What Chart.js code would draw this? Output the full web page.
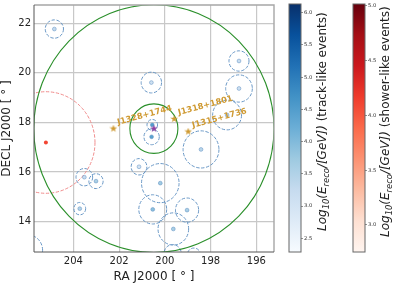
<!DOCTYPE html>
<html>
<head>
<meta charset="utf-8">
<script src="https://cdn.jsdelivr.net/npm/chart.js@4"></script>
<style>
html, body { margin: 0; padding: 0; background: #fff; overflow: hidden; }
canvas { position: absolute; top: 0; }
</style>
</head>
<body>
<canvas id="sky" width="396" height="284" style="left:0"></canvas>
<canvas id="trackBar" width="64" height="284" style="left:288px"></canvas>
<canvas id="showerBar" width="44" height="284" style="left:352px"></canvas>
<script>
// track-like events: RA, Dec, error radius (deg), log10 energy
const trackRa = [204.83, 196.76, 200.59, 196.76, 197.28, 198.42, 200.55, 200.58, 201.13, 200.2, 200.53, 199.03, 199.63, 199.66, 198.73, 203.52, 203.01, 203.72, 205.98];
const trackDec = [21.77, 20.48, 19.61, 19.37, 18.3, 16.91, 17.9, 17.42, 16.21, 15.55, 14.49, 14.46, 13.7, 12.7, 12.64, 15.79, 15.63, 14.52, 12.84];
const trackErr = [0.37, 0.41, 0.42, 0.55, 0.6, 0.75, 0.22, 0.32, 0.33, 0.79, 0.59, 0.49, 0.65, 0.37, 0.29, 0.35, 0.3, 0.25, 0.62];
const trackE = [3.3, 3.2, 3.1, 3.1, 3.3, 3.4, 4.5, 4.4, 3.0, 3.7, 3.9, 3.6, 3.6, 3.2, 3.2, 3.2, 3.6, 3.5, 3.2];

// shower-like event
const showerRa = [205.2];
const showerDec = [17.19];
const showerErr = [2.05];
const showerE = [4.1];

// candidate sources
const sourceNames = ['J1328+1744', 'J1318+1801', 'J1315+1736'];
const sourceRa = [202.25, 199.59, 198.98];
const sourceDec = [17.75, 18.14, 17.63];

// green search regions and their centre
const regionRa = [200.48, 200.48];
const regionDec = [17.75, 17.75];
const regionRadius = [1, 5];

const raTicks = [204, 202, 200, 198, 196];
const decTicks = [14, 16, 18, 20, 22];
const trackTicks = [2.5, 3.0, 3.5, 4.0, 4.5, 5.0, 5.5, 6.0];
const showerTicks = [3.0, 3.5, 4.0, 4.5, 5.0];

const blues = ['#f7fbff', '#deebf7', '#c6dbef', '#9ecae1', '#6baed6', '#4292c6', '#2171b5', '#08519c', '#08306b'];
const reds = ['#fff5f0', '#fee0d2', '#fcbba1', '#fc9272', '#fb6a4a', '#ef3b2c', '#cb181d', '#a50f15', '#67000d'];

const FONT = 'DejaVu Sans';
const GOLD = '#cf9a32';
const TRACK_RANGE = [2.287, 6.135];
const SHOWER_RANGE = [2.753, 5.018];

function rampColor(ramp, range, v) {
    const t = Math.min(1, Math.max(0, (v - range[0]) / (range[1] - range[0]))) * (ramp.length - 1);
    const i = Math.min(ramp.length - 2, Math.floor(t));
    const a = parseInt(ramp[i].slice(1), 16), b = parseInt(ramp[i + 1].slice(1), 16);
    const mix = (s) => Math.round(((a >> s) & 255) * (1 - t + i) + ((b >> s) & 255) * (t - i));
    return `rgb(${mix(16)},${mix(8)},${mix(0)})`;
}

function starImage(color, size) {
    const c = document.createElement('canvas');
    c.width = c.height = size;
    const g = c.getContext('2d');
    g.beginPath();
    for (let i = 0; i < 10; i++) {
        const r = (i % 2 ? 0.2 : 0.5) * size;
        const a = -Math.PI / 2 + i * Math.PI / 5;
        g.lineTo(size / 2 + r * Math.cos(a), size / 2 + r * Math.sin(a));
    }
    g.closePath();
    g.fillStyle = color;
    g.fill();
    return c;
}

function ellipse(chart, ra, dec, radius, color, width, dash) {
    const { ctx, chartArea: area, scales: { x, y } } = chart;
    const rx = Math.abs(x.getPixelForValue(ra + radius / Math.cos(dec * Math.PI / 180)) - x.getPixelForValue(ra));
    const ry = Math.abs(y.getPixelForValue(dec + radius) - y.getPixelForValue(dec));
    ctx.save();
    ctx.beginPath();
    ctx.rect(area.left, area.top, area.right - area.left, area.bottom - area.top);
    ctx.clip();
    ctx.beginPath();
    ctx.ellipse(x.getPixelForValue(ra), y.getPixelForValue(dec), rx, ry, 0, 0, Math.PI * 2);
    ctx.strokeStyle = color;
    ctx.lineWidth = width;
    ctx.setLineDash(dash);
    ctx.stroke();
    ctx.restore();
}

const skyOverlay = {
    id: 'skyOverlay',
    beforeDatasetsDraw(chart) {
        trackRa.forEach((ra, i) => ellipse(chart, ra, trackDec[i], trackErr[i], '#6a98c6', 1, [3.4, 1.6]));
        showerRa.forEach((ra, i) => ellipse(chart, ra, showerDec[i], showerErr[i], '#f08c8c', 1, [3.4, 1.6]));
        regionRa.forEach((ra, i) => ellipse(chart, ra, regionDec[i], regionRadius[i], '#2a8f2a', 1.1, []));
    },
    afterDatasetsDraw(chart) {
        const { ctx, scales: { x, y } } = chart;
        ctx.save();
        ctx.fillStyle = GOLD;
        ctx.font = `bold 8.3px "${FONT}"`;
        ctx.textBaseline = 'middle';
        sourceNames.forEach((name, i) => {
            ctx.save();
            ctx.translate(x.getPixelForValue(sourceRa[i]) + 4, y.getPixelForValue(sourceDec[i]) - 6);
            ctx.rotate(-15 * Math.PI / 180);
            ctx.fillText(name, 0, 0);
            ctx.restore();
        });
        ctx.restore();
    }
};

// matplotlib look: dark left/bottom spines, grey top/right
const frame = {
    id: 'frame',
    afterDraw(chart) {
        const { ctx, chartArea: a } = chart;
        ctx.save();
        ctx.lineWidth = 1.4;
        ctx.strokeStyle = '#a6a6a6';
        ctx.beginPath();
        ctx.moveTo(a.left, a.top);
        ctx.lineTo(a.right, a.top);
        ctx.lineTo(a.right, a.bottom);
        ctx.stroke();
        ctx.lineWidth = 1;
        ctx.strokeStyle = '#555';
        ctx.beginPath();
        ctx.moveTo(a.left, a.top);
        ctx.lineTo(a.left, a.bottom);
        ctx.lineTo(a.right, a.bottom);
        ctx.stroke();
        ctx.restore();
    }
};

function noMargins(s) {
    s.paddingTop = s.paddingBottom = s.paddingLeft = s.paddingRight = 0;
}

new Chart(document.getElementById('sky'), {
    type: 'scatter',
    data: {
        datasets: [
            {
                data: [{ x: regionRa[0], y: regionDec[0] }],
                pointStyle: starImage('#8e3fa0', 8), pointRadius: 4
            },
            {
                data: sourceRa.map((ra, i) => ({ x: ra, y: sourceDec[i] })),
                pointStyle: starImage(GOLD, 8), pointRadius: 4
            },
            {
                data: trackRa.map((ra, i) => ({ x: ra, y: trackDec[i] })),
                pointRadius: 1.9, borderWidth: 0.5, borderColor: '#5f8fc0',
                backgroundColor: trackE.map((e) => rampColor(blues, TRACK_RANGE, e))
            },
            {
                data: showerRa.map((ra, i) => ({ x: ra, y: showerDec[i] })),
                pointRadius: 2, borderWidth: 0,
                backgroundColor: showerE.map((e) => rampColor(reds, SHOWER_RANGE, e))
            }
        ]
    },
    options: {
        responsive: false, animation: false,
        layout: { padding: { top: 4, right: 122, left: 0, bottom: 0 } },
        plugins: { legend: { display: false }, tooltip: { enabled: false } },
        scales: {
            x: {
                type: 'linear', reverse: true, min: 195.23, max: 205.72,
                afterFit(s) { s.height = 32; noMargins(s); },
                afterBuildTicks(s) { s.ticks = raTicks.map((v) => ({ value: v })); },
                grid: { color: '#c8c8c8', lineWidth: 1.2, drawTicks: false },
                border: { display: false },
                ticks: { color: '#222', font: { family: FONT, size: 10 }, padding: 3, maxRotation: 0 },
                title: { display: true, text: 'RA J2000 [ ° ]', color: '#222', font: { family: FONT, size: 12 }, padding: { top: 0, bottom: 0 } }
            },
            y: {
                type: 'linear', min: 12.77, max: 22.74,
                afterFit(s) { s.width = 34; noMargins(s); },
                afterBuildTicks(s) { s.ticks = decTicks.map((v) => ({ value: v })); },
                grid: { color: '#c8c8c8', lineWidth: 1.2, drawTicks: false },
                border: { display: false },
                ticks: { color: '#222', font: { family: FONT, size: 10 }, padding: 3 },
                title: { display: true, text: 'DECL J2000 [ ° ]', color: '#222', font: { family: FONT, size: 12 }, padding: { top: 0, bottom: 1 } }
            }
        }
    },
    plugins: [skyOverlay, frame]
});

// rotated label with subscripts, drawn piece by piece from the bottom up
function barTitle(labelX, labelBottom, suffix) {
    return {
        id: 'barTitle',
        afterDraw(chart) {
            const { ctx } = chart;
            const pieces = [
                ['Log', `italic 12px "${FONT}"`, 0],
                ['10', `italic 8.4px "${FONT}"`, 2.5],
                ['(E', `italic 12px "${FONT}"`, 0],
                ['reco', `italic 8.4px "${FONT}"`, 2.5],
                ['/[GeV])', `italic 12px "${FONT}"`, 0],
                [suffix, `12px "${FONT}"`, 0]
            ];
            ctx.save();
            ctx.translate(labelX, labelBottom);
            ctx.rotate(-Math.PI / 2);
            ctx.fillStyle = '#222';
            ctx.textBaseline = 'alphabetic';
            let at = 0;
            pieces.forEach(([text, font, drop]) => {
                ctx.font = font;
                ctx.fillText(text, at, drop);
                at += ctx.measureText(text).width;
            });
            ctx.restore();
        }
    };
}

function colorBar(id, ramp, range, ticks, width, title) {
    new Chart(document.getElementById(id), {
        type: 'bar',
        data: {
            labels: [''],
            datasets: [{
                data: [range],
                barPercentage: 1, categoryPercentage: 1, borderWidth: 0,
                backgroundColor(ctx) {
                    const area = ctx.chart.chartArea;
                    if (!area) return ramp[0];
                    const g = ctx.chart.ctx.createLinearGradient(0, area.bottom, 0, area.top);
                    ramp.forEach((c, i) => g.addColorStop(i / (ramp.length - 1), c));
                    return g;
                }
            }]
        },
        options: {
            responsive: false, animation: false,
            layout: { padding: { top: 4, left: 1, right: 0, bottom: 32 } },
            plugins: { legend: { display: false }, tooltip: { enabled: false } },
            scales: {
                x: { display: false },
                y: {
                    type: 'linear', position: 'right', min: range[0], max: range[1],
                    afterFit(s) { s.width = width - 13; noMargins(s); },
                    afterBuildTicks(s) { s.ticks = ticks.map((v) => ({ value: v })); },
                    grid: { display: true, drawOnChartArea: false, drawTicks: true, tickLength: 2, tickColor: '#444', lineWidth: 0.6 },
                    border: { display: false },
                    ticks: { color: '#333', padding: 1, font: { family: FONT, size: 5.2 }, callback: (v) => v.toFixed(1) }
                }
            }
        },
        plugins: [{
            id: 'outline',
            afterDraw(chart) {
                const { ctx, chartArea: a } = chart;
                ctx.save();
                ctx.strokeStyle = '#666';
                ctx.lineWidth = 1;
                ctx.strokeRect(a.left, a.top, a.right - a.left, a.bottom - a.top);
                ctx.restore();
            }
        }, title]
    });
}

colorBar('trackBar', blues, TRACK_RANGE, trackTicks, 64, barTitle(38, 231, ' (track-like events)'));
colorBar('showerBar', reds, SHOWER_RANGE, showerTicks, 44, barTitle(37, 237, ' (shower-like events)'));
</script>
</body>
</html>
